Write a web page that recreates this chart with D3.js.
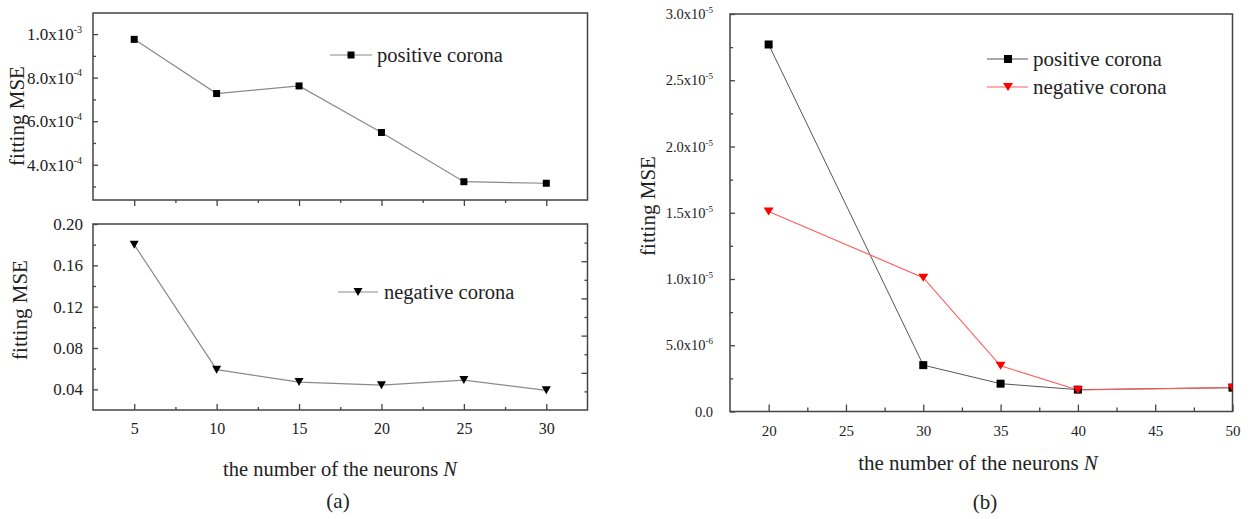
<!DOCTYPE html>
<html><head><meta charset="utf-8">
<script src="https://cdn.jsdelivr.net/npm/d3@7"></script>
<style>
body{margin:0;background:#fff}
text{font-family:"Liberation Serif","Times New Roman",serif;fill:#222}
</style>
</head><body>
<svg id="c" width="1255" height="519"></svg>
<script>
// ---------- data ----------
const neuronsA = [5, 10, 15, 20, 25, 30];
const positiveA = [9.76e-4, 7.27e-4, 7.62e-4, 5.48e-4, 3.22e-4, 3.15e-4];
const negativeA = [0.180, 0.059, 0.047, 0.044, 0.049, 0.039];

const neuronsB = [20, 30, 35, 40, 50];
const positiveB = [2.77e-5, 3.5e-6, 2.1e-6, 1.65e-6, 1.8e-6];
const negativeB = [1.51e-5, 1.01e-5, 3.45e-6, 1.62e-6, 1.8e-6];

const xTicksA = [5, 10, 15, 20, 25, 30];
const xMinorA = [7.5, 12.5, 17.5, 22.5, 27.5];
const yTicksATop = [4e-4, 6e-4, 8e-4, 1e-3];
const yTickLabelsATop = [["4.0x10", "-4"], ["6.0x10", "-4"], ["8.0x10", "-4"], ["1.0x10", "-3"]];
const yMinorATop = [3e-4, 5e-4, 7e-4, 9e-4];
const yTicksABot = [0.04, 0.08, 0.12, 0.16, 0.20];
const yTickLabelsABot = ["0.04", "0.08", "0.12", "0.16", "0.20"];
const yMinorABot = [0.06, 0.10, 0.14, 0.18];
const rightTicksABot = [2, 4, 6, 8];
const rightMinorABot = [1, 3, 5, 7, 9];

const xTicksB = [20, 25, 30, 35, 40, 45, 50];
const xMinorB = [22.5, 27.5, 32.5, 37.5, 42.5, 47.5];
const yTicksB = [0, 5e-6, 1e-5, 1.5e-5, 2e-5, 2.5e-5, 3e-5];
const yTickLabelsB = [["0.0", ""], ["5.0x10", "-6"], ["1.0x10", "-5"], ["1.5x10", "-5"], ["2.0x10", "-5"], ["2.5x10", "-5"], ["3.0x10", "-5"]];
const yMinorB = [2.5e-6, 7.5e-6, 1.25e-5, 1.75e-5, 2.25e-5, 2.75e-5];

const seriesNames = ["positive corona", "negative corona"];

// ---------- setup ----------
const svg = d3.select("#c");
const frameColor = "#444";
const sq = 7;
const triDown = (w, h) => `M${-w/2},${-h/2}L${w/2},${-h/2}L0,${h/2}Z`;

function frame(x0, x1, y0, y1) {
  svg.append("rect").attr("x", x0).attr("y", y0).attr("width", x1 - x0).attr("height", y1 - y0)
    .attr("fill", "none").attr("stroke", frameColor).attr("stroke-width", 1.5);
}
function styleAxis(g) {
  g.select(".domain").remove();
  g.selectAll("line").attr("stroke", frameColor).attr("stroke-width", 1.3);
}
function supLabels(g, labels, fs, supFs) {
  g.selectAll(".tick text").each(function(d, i) {
    const t = d3.select(this);
    t.text(null);
    t.append("tspan").text(labels[i][0]);
    if (labels[i][1]) t.append("tspan").attr("font-size", supFs).attr("dy", -fs * 0.42).text(labels[i][1]);
  });
}

// ---------- panel (a) ----------
const aL = 93, aR = 587.5;
const aTopT = 13, aTopB = 200, aBotT = 224, aBotB = 410;
const xA = d3.scaleLinear().domain([2.5, 32.5]).range([aL, aR]);
const yAT = d3.scaleLinear().domain([2.38e-4, 1.097e-3]).range([aTopB, aTopT]);
const yAB = d3.scaleLinear().domain([0.02, 0.20]).range([aBotB, aBotT]);
const yABR = d3.scaleLinear().domain([0, 10]).range([aBotB, aBotT]);

frame(aL, aR, aTopT, aTopB);
frame(aL, aR, aBotT, aBotB);

// top panel axes
svg.append("g").attr("transform", `translate(0,${aTopB})`)
  .call(d3.axisBottom(xA).tickValues(xTicksA).tickSize(6).tickFormat(""))
  .call(styleAxis);
svg.append("g").attr("transform", `translate(0,${aTopB})`)
  .call(d3.axisBottom(xA).tickValues(xMinorA).tickSize(3).tickFormat(""))
  .call(styleAxis);
svg.append("g").attr("transform", `translate(${aL},0)`)
  .call(d3.axisRight(yAT).tickValues(yMinorATop).tickSize(3).tickFormat(""))
  .call(styleAxis);
const gyat = svg.append("g").attr("transform", `translate(${aL},0)`)
  .call(d3.axisLeft(yAT).tickValues(yTicksATop).tickSize(-5).tickPadding(11))
  .call(styleAxis);
gyat.selectAll("text").attr("font-size", 17).attr("font-family", "Liberation Serif").attr("fill", "#222");
supLabels(gyat, yTickLabelsATop, 17, 10);

// bottom panel axes
const gxab = svg.append("g").attr("transform", `translate(0,${aBotB})`)
  .call(d3.axisBottom(xA).tickValues(xTicksA).tickSize(-6).tickPadding(13))
  .call(styleAxis);
gxab.selectAll("text").attr("font-size", 16).attr("font-family", "Liberation Serif").attr("fill", "#222");
svg.append("g").attr("transform", `translate(0,${aBotB})`)
  .call(d3.axisBottom(xA).tickValues(xMinorA).tickSize(-3).tickFormat(""))
  .call(styleAxis);
const gyab = svg.append("g").attr("transform", `translate(${aL},0)`)
  .call(d3.axisLeft(yAB).tickValues(yTicksABot).tickSize(-5).tickPadding(10)
    .tickFormat((d, i) => yTickLabelsABot[i]))
  .call(styleAxis);
gyab.selectAll("text").attr("font-size", 17).attr("font-family", "Liberation Serif").attr("fill", "#222");
svg.append("g").attr("transform", `translate(${aL},0)`)
  .call(d3.axisRight(yAB).tickValues(yMinorABot).tickSize(3).tickFormat(""))
  .call(styleAxis);
svg.append("g").attr("transform", `translate(${aR},0)`)
  .call(d3.axisLeft(yABR).tickValues(rightTicksABot).tickSize(6).tickFormat(""))
  .call(styleAxis);
svg.append("g").attr("transform", `translate(${aR},0)`)
  .call(d3.axisLeft(yABR).tickValues(rightMinorABot).tickSize(3).tickFormat(""))
  .call(styleAxis);

// top panel series
const lineAT = d3.line().x((d, i) => xA(neuronsA[i])).y(d => yAT(d));
svg.append("path").datum(positiveA).attr("d", lineAT).attr("fill", "none").attr("stroke", "#8a8a8a").attr("stroke-width", 1.2);
svg.selectAll(".pa").data(positiveA).join("rect")
  .attr("x", (d, i) => xA(neuronsA[i]) - sq/2).attr("y", d => yAT(d) - sq/2)
  .attr("width", sq).attr("height", sq).attr("fill", "#000");

// bottom panel series
const lineAB = d3.line().x((d, i) => xA(neuronsA[i])).y(d => yAB(d));
svg.append("path").datum(negativeA).attr("d", lineAB).attr("fill", "none").attr("stroke", "#8a8a8a").attr("stroke-width", 1.2);
svg.selectAll(".na").data(negativeA).join("path")
  .attr("transform", (d, i) => `translate(${xA(neuronsA[i])},${yAB(d)})`)
  .attr("d", triDown(9, 8)).attr("fill", "#000");

// legends (a)
svg.append("line").attr("x1", 330).attr("x2", 372).attr("y1", 55).attr("y2", 55).attr("stroke", "#8a8a8a").attr("stroke-width", 1.2);
svg.append("rect").attr("x", 351 - sq/2).attr("y", 55 - sq/2).attr("width", sq).attr("height", sq).attr("fill", "#000");
svg.append("text").attr("x", 377).attr("y", 62).attr("font-size", 20.5).text(seriesNames[0]);
svg.append("line").attr("x1", 338).attr("x2", 378).attr("y1", 292).attr("y2", 292).attr("stroke", "#8a8a8a").attr("stroke-width", 1.2);
svg.append("path").attr("transform", "translate(358,292)").attr("d", triDown(9, 8)).attr("fill", "#000");
svg.append("text").attr("x", 384).attr("y", 299).attr("font-size", 20.5).text(seriesNames[1]);

// labels (a)
svg.append("text").attr("transform", "translate(24,116) rotate(-90)").attr("text-anchor", "middle")
  .attr("font-size", 21).text("fitting MSE");
svg.append("text").attr("transform", "translate(27,310) rotate(-90)").attr("text-anchor", "middle")
  .attr("font-size", 21).text("fitting MSE");
const xlA = svg.append("text").attr("x", 340).attr("y", 476).attr("text-anchor", "middle").attr("font-size", 20.5);
xlA.append("tspan").text("the number of the neurons ");
xlA.append("tspan").attr("font-style", "italic").text("N");
svg.append("text").attr("x", 338).attr("y", 508).attr("text-anchor", "middle").attr("font-size", 21).text("(a)");

// ---------- panel (b) ----------
const bL = 730, bR = 1232.5, bT = 14, bB = 411.5;
const xB = d3.scaleLinear().domain([17.5, 50]).range([bL, bR]);
const yB = d3.scaleLinear().domain([0, 3e-5]).range([bB, bT]);
frame(bL, bR, bT, bB);

const gxb = svg.append("g").attr("transform", `translate(0,${bB})`)
  .call(d3.axisBottom(xB).tickValues(xTicksB).tickSize(-7).tickPadding(14))
  .call(styleAxis);
gxb.selectAll("text").attr("font-size", 15).attr("font-family", "Liberation Serif").attr("fill", "#222");
svg.append("g").attr("transform", `translate(0,${bB})`)
  .call(d3.axisBottom(xB).tickValues(xMinorB).tickSize(-4).tickFormat(""))
  .call(styleAxis);
const gyb = svg.append("g").attr("transform", `translate(${bL},0)`)
  .call(d3.axisLeft(yB).tickValues(yTicksB).tickSize(-5).tickPadding(17))
  .call(styleAxis);
gyb.selectAll("text").attr("font-size", 14.5).attr("font-family", "Liberation Serif").attr("fill", "#222");
supLabels(gyb, yTickLabelsB, 14.5, 9);
svg.append("g").attr("transform", `translate(${bL},0)`)
  .call(d3.axisRight(yB).tickValues(yMinorB).tickSize(3).tickFormat(""))
  .call(styleAxis);

svg.append("clipPath").attr("id", "clipB").append("rect")
  .attr("x", bL).attr("y", bT).attr("width", bR - bL).attr("height", bB - bT);
const plotB = svg.append("g").attr("clip-path", "url(#clipB)");
const lineB = d3.line().x((d, i) => xB(neuronsB[i])).y(d => yB(d));
plotB.append("path").datum(positiveB).attr("d", lineB).attr("fill", "none").attr("stroke", "#555").attr("stroke-width", 1);
plotB.append("path").datum(negativeB).attr("d", lineB).attr("fill", "none").attr("stroke", "#ff5a5a").attr("stroke-width", 1.1);
plotB.selectAll(".pb").data(positiveB).join("rect")
  .attr("x", (d, i) => xB(neuronsB[i]) - 4).attr("y", d => yB(d) - 4)
  .attr("width", 8).attr("height", 8).attr("fill", "#000");
plotB.selectAll(".nb").data(negativeB).join("path")
  .attr("transform", (d, i) => `translate(${xB(neuronsB[i])},${yB(d)})`)
  .attr("d", triDown(10, 8)).attr("fill", "#ff0000");

// legend (b)
svg.append("line").attr("x1", 987).attr("x2", 1028).attr("y1", 59).attr("y2", 59).attr("stroke", "#555").attr("stroke-width", 1);
svg.append("rect").attr("x", 1008 - 4).attr("y", 59 - 4).attr("width", 8).attr("height", 8).attr("fill", "#000");
svg.append("text").attr("x", 1033).attr("y", 66).attr("font-size", 21).text(seriesNames[0]);
svg.append("line").attr("x1", 987).attr("x2", 1028).attr("y1", 87).attr("y2", 87).attr("stroke", "#ff5a5a").attr("stroke-width", 1.1);
svg.append("path").attr("transform", "translate(1008,87)").attr("d", triDown(10, 8)).attr("fill", "#ff0000");
svg.append("text").attr("x", 1033).attr("y", 94).attr("font-size", 21).text(seriesNames[1]);

svg.append("text").attr("transform", "translate(655,206) rotate(-90)").attr("text-anchor", "middle")
  .attr("font-size", 21).text("fitting MSE");
const xlB = svg.append("text").attr("x", 978).attr("y", 470).attr("text-anchor", "middle").attr("font-size", 21);
xlB.append("tspan").text("the number of the neurons ");
xlB.append("tspan").attr("font-style", "italic").text("N");
svg.append("text").attr("x", 985).attr("y", 509).attr("text-anchor", "middle").attr("font-size", 21).text("(b)");
</script>
</body></html>
